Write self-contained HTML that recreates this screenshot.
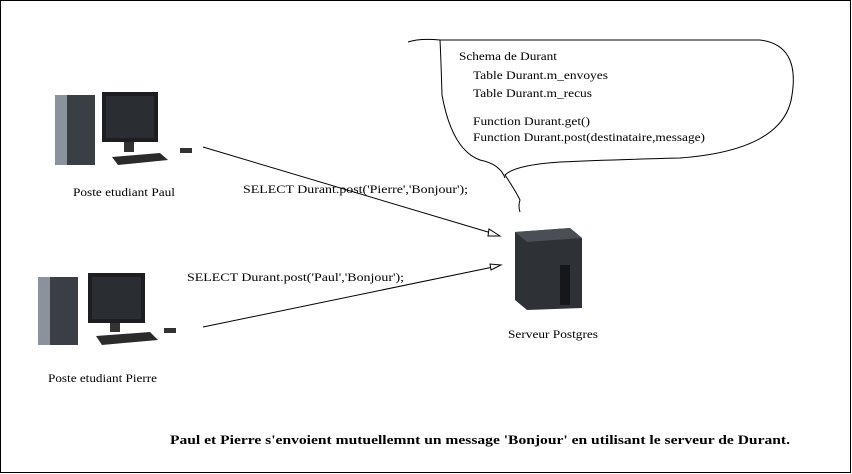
<!DOCTYPE html>
<html><head><style>
html,body{margin:0;padding:0;background:#fff}
svg{display:block}
text{font-family:"Liberation Serif",serif;fill:#000}
</style></head><body>
<svg width="852" height="474" viewBox="0 0 852 474" xmlns="http://www.w3.org/2000/svg">
<rect x="0.5" y="0.5" width="850" height="472" fill="#fff" stroke="#000" stroke-width="1"/>
<!-- cloud -->
<path d="M408,42 Q420,38 440,40 L760,40 Q800,45 792,95 Q785,150 680,158 Q600,160 560,162 Q515,165 505,175 Q515,190 520,200 Q518,206 520,212 M440,40 Q441,60 442,95 Q452,150 480,160 Q500,164 505,178" fill="none" stroke="#000" stroke-width="1"/>
<text font-size="11.5" x="459" y="60" textLength="98" lengthAdjust="spacingAndGlyphs">Schema de Durant</text>
<text font-size="11.5" x="473" y="79" textLength="135" lengthAdjust="spacingAndGlyphs">Table Durant.m_envoyes</text>
<text font-size="11.5" x="473" y="97" textLength="119" lengthAdjust="spacingAndGlyphs">Table Durant.m_recus</text>
<text font-size="11.5" x="473" y="125" textLength="117" lengthAdjust="spacingAndGlyphs">Function Durant.get()</text>
<text font-size="11.5" x="473" y="141" textLength="232" lengthAdjust="spacingAndGlyphs">Function Durant.post(destinataire,message)</text>
<!-- Paul PC -->
<g>
<rect x="55" y="95" width="40" height="70" fill="#3a3f45"/>
<rect x="55" y="95" width="12" height="70" fill="#8a939c"/>
<rect x="102" y="92" width="56" height="50" fill="#1c1e22"/>
<rect x="106" y="96" width="48" height="42" fill="#2a2d32"/>
<rect x="124" y="142" width="10" height="10" fill="#333"/>
<polygon points="112,157 160,153 168,160 118,165" fill="#2b2b2b"/>
<rect x="180" y="148" width="12" height="5" fill="#333"/>
</g>
<text font-size="11.5" x="73" y="196" textLength="102" lengthAdjust="spacingAndGlyphs">Poste etudiant Paul</text>
<!-- Pierre PC -->
<g>
<rect x="38" y="277" width="40" height="68" fill="#3a3f45"/>
<rect x="38" y="277" width="12" height="68" fill="#8a939c"/>
<rect x="88" y="273" width="57" height="50" fill="#1c1e22"/>
<rect x="92" y="277" width="49" height="42" fill="#2a2d32"/>
<rect x="110" y="323" width="10" height="9" fill="#333"/>
<polygon points="96,336 150,332 158,340 102,345" fill="#2b2b2b"/>
<rect x="164" y="328" width="12" height="5" fill="#333"/>
</g>
<text font-size="11.5" x="48" y="382" textLength="109" lengthAdjust="spacingAndGlyphs">Poste etudiant Pierre</text>
<!-- server -->
<g>
<polygon points="515,232 570,228 582,238 582,308 527,310 515,300" fill="#2e3136"/>
<polygon points="515,232 570,228 582,238 527,242" fill="#4a4e55"/>
<rect x="560" y="265" width="10" height="40" fill="#15171a"/>
</g>
<text font-size="11.5" x="508" y="338" textLength="90" lengthAdjust="spacingAndGlyphs">Serveur Postgres</text>
<!-- connectors -->
<line x1="203" y1="147" x2="498" y2="235" stroke="#000" stroke-width="1"/>
<polygon points="500,236 489,229 488,236" fill="#fff" stroke="#000" stroke-width="1"/>
<line x1="203" y1="327" x2="498" y2="266" stroke="#000" stroke-width="1"/>
<polygon points="501,265 490,264 491,270" fill="#fff" stroke="#000" stroke-width="1"/>
<text font-size="11.5" x="243" y="193" textLength="225" lengthAdjust="spacingAndGlyphs">SELECT Durant.post('Pierre','Bonjour');</text>
<text font-size="11.5" x="187" y="281" textLength="217" lengthAdjust="spacingAndGlyphs">SELECT Durant.post('Paul','Bonjour');</text>
<text font-size="13" font-weight="bold" x="170" y="444" textLength="620" lengthAdjust="spacingAndGlyphs">Paul et Pierre s'envoient mutuellemnt un message 'Bonjour' en utilisant le serveur de Durant.</text>
</svg>
</body></html>
